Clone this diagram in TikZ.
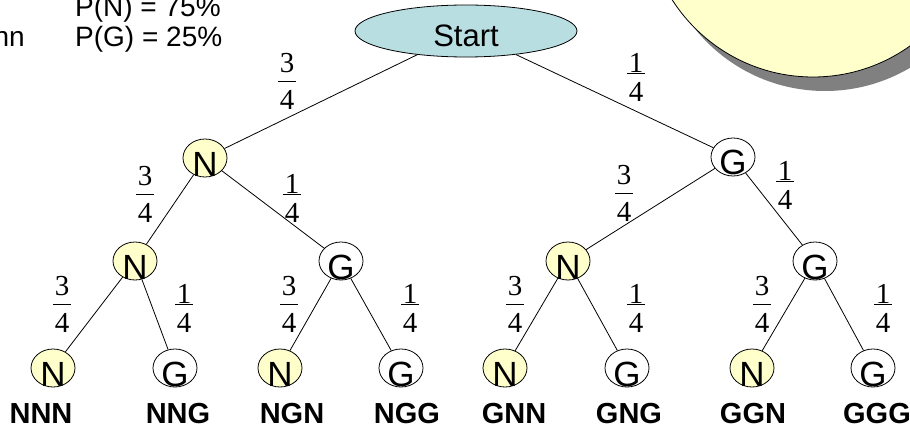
\documentclass[tikz,border=0pt]{standalone}
\usepackage{fontspec}
\setmainfont{Liberation Sans}
\newfontfamily\frfont{Liberation Serif}
\usetikzlibrary{shapes.geometric}
\definecolor{pale}{RGB}{255,255,204}
\definecolor{startc}{RGB}{184,222,226}
\definecolor{shadowc}{RGB}{128,128,128}
\newcommand{\frc}[3]{\vbox{\offinterlineskip\hbox to 18pt{\hss#1\hss}\kern#3\hrule height 0.9pt\kern9pt\hbox to 18pt{\hss#2\hss}}}
\newcommand{\lowlet}[2]{\smash{\raisebox{#1}{#2}}}
\tikzset{
  circ/.style={ellipse, draw, line width=0.8pt, minimum width=44pt, minimum height=38pt,
    inner sep=0pt, font=\fontsize{35}{35}\selectfont},
  nnode/.style={circ, fill=pale},
  gnode/.style={circ, fill=white},
  startnode/.style={ellipse, draw, line width=0.8pt, fill=startc, minimum width=222pt,
    minimum height=52pt, inner sep=0pt, font=\fontsize{31}{31}\selectfont},
  fracnode/.style={anchor=south, inner sep=0pt, font=\frfont\fontsize{29}{30}\selectfont},
  leaflab/.style={anchor=base, inner sep=0pt, font=\bfseries\fontsize{29}{30}\selectfont},
  ptext/.style={anchor=base west, inner sep=0pt, font=\fontsize{28}{30}\selectfont},
  edge/.style={line width=0.8pt}
}
\begin{document}
\begin{tikzpicture}[x=1pt,y=-1pt]
\useasboundingbox (0,0) rectangle (910,425);
\clip (0,0) rectangle (910,425);
\fill[white] (0,0) rectangle (910,425);
% big decorative circle with shadow
\fill[shadowc] (825,-76) circle (167);
\draw[line width=0.8pt, fill=pale] (813,-90) circle (167);
% probability text
\node[ptext] (pn) at (75,17) {P(N) = 75\%};
\node[ptext] (pg) at (75,47) {P(G) = 25\%};
\node[anchor=base east, inner sep=0pt, font=\fontsize{28}{30}\selectfont] (nn) at (25,47) {nn};
% tree nodes
\node[startnode] (start) at (466,31) {\lowlet{-16pt}{Start}};
\node[nnode] (n1) at (205,158) {\lowlet{-18pt}{N}};
\node[gnode] (g1) at (733,157) {\lowlet{-18pt}{G}};
\node[nnode] (nn2) at (135,261) {\lowlet{-18pt}{N}};
\node[gnode] (ng2) at (341,261) {\lowlet{-18pt}{G}};
\node[nnode] (gn2) at (568,261) {\lowlet{-18pt}{N}};
\node[gnode] (gg2) at (815,261) {\lowlet{-18pt}{G}};
\node[nnode] (l1) at (53,368) {\lowlet{-18pt}{N}};
\node[gnode] (l2) at (175,368) {\lowlet{-18pt}{G}};
\node[nnode] (l3) at (280,368) {\lowlet{-18pt}{N}};
\node[gnode] (l4) at (401,368) {\lowlet{-18pt}{G}};
\node[nnode] (l5) at (505,368) {\lowlet{-18pt}{N}};
\node[gnode] (l6) at (627,368) {\lowlet{-18pt}{G}};
\node[nnode] (l7) at (752,368) {\lowlet{-18pt}{N}};
\node[gnode] (l8) at (873,368) {\lowlet{-18pt}{G}};
% connectors
\draw[edge] (start) -- (n1);
\draw[edge] (start) -- (g1);
\draw[edge] (n1) -- (nn2);
\draw[edge] (n1) -- (ng2);
\draw[edge] (g1) -- (gn2);
\draw[edge] (g1) -- (gg2);
\draw[edge] (nn2) -- (l1);
\draw[edge] (nn2) -- (l2);
\draw[edge] (ng2) -- (l3);
\draw[edge] (ng2) -- (l4);
\draw[edge] (gn2) -- (l5);
\draw[edge] (gn2) -- (l6);
\draw[edge] (gg2) -- (l7);
\draw[edge] (gg2) -- (l8);
% fractions
\node[fracnode] (f0a) at (287,110) {\frc{3}{4}{8pt}};
\node[fracnode] (f0b) at (636,102) {\frc{1}{4}{0pt}};
\node[fracnode] (f1a) at (145,223) {\frc{3}{4}{8pt}};
\node[fracnode] (f1b) at (292,223) {\frc{1}{4}{0pt}};
\node[fracnode] (f1c) at (624,222) {\frc{3}{4}{8pt}};
\node[fracnode] (f1d) at (785,210) {\frc{1}{4}{0pt}};
\node[fracnode] (f2a) at (62,333) {\frc{3}{4}{8pt}};
\node[fracnode] (f2b) at (184,333) {\frc{1}{4}{0pt}};
\node[fracnode] (f2c) at (289,333) {\frc{3}{4}{8pt}};
\node[fracnode] (f2d) at (410,333) {\frc{1}{4}{0pt}};
\node[fracnode] (f2e) at (515,333) {\frc{3}{4}{8pt}};
\node[fracnode] (f2f) at (636,333) {\frc{1}{4}{0pt}};
\node[fracnode] (f2g) at (762,333) {\frc{3}{4}{8pt}};
\node[fracnode] (f2h) at (883,333) {\frc{1}{4}{0pt}};
% leaf labels
\node[leaflab] (t1) at (41,423) {NNN};
\node[leaflab] (t2) at (178,423) {NNG};
\node[leaflab] (t3) at (292,423) {NGN};
\node[leaflab] (t4) at (407,423) {NGG};
\node[leaflab] (t5) at (514,423) {GNN};
\node[leaflab] (t6) at (629,423) {GNG};
\node[leaflab] (t7) at (753,423) {GGN};
\node[leaflab] (t8) at (877,423) {GGG};
\end{tikzpicture}
\end{document}
